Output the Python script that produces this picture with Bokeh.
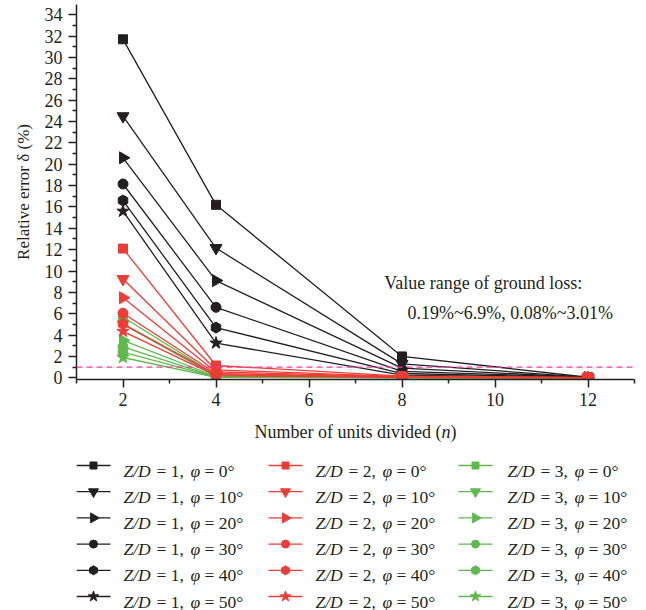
import math
from bokeh.plotting import figure
from bokeh.models import Range1d, FixedTicker, Span, Label
from bokeh.layouts import column
from bokeh.embed import file_html
from bokeh.resources import INLINE
from bokeh.core.properties import value

# ---------------- data ----------------
n_units = [2, 4, 8, 12]
phi_values = [0, 10, 20, 30, 40, 50]
zd_values = [1, 2, 3]

# relative error (%) per phi (rows) at n = 2, 4, 8, 12
err_zd1 = [
    [31.7, 16.2, 2.0, 0.05],
    [24.5, 12.15, 1.3, 0.04],
    [20.6, 9.1, 0.9, 0.03],
    [18.15, 6.6, 0.6, 0.03],
    [16.6, 4.7, 0.4, 0.02],
    [15.6, 3.25, 0.25, 0.02],
]
err_zd2 = [
    [12.1, 1.15, 0.15, 0.02],
    [9.25, 0.75, 0.1, 0.02],
    [7.5, 0.55, 0.08, 0.01],
    [6.05, 0.4, 0.06, 0.01],
    [5.05, 0.3, 0.05, 0.01],
    [4.35, 0.2, 0.04, 0.01],
]
err_zd3 = [
    [5.7, 0.25, 0.03, 0.01],
    [5.0, 0.18, 0.02, 0.01],
    [3.5, 0.12, 0.02, 0.0],
    [2.9, 0.08, 0.01, 0.0],
    [2.4, 0.06, 0.01, 0.0],
    [1.9, 0.04, 0.01, 0.0],
]
threshold = 1.0

x_ticks = [2, 4, 6, 8, 10, 12]
x_minor = [1, 3, 5, 7, 9, 11, 13]
y_ticks = list(range(0, 35, 2))
y_minor = list(range(1, 36, 2))

y_label = "Relative error δ (%)"
x_label_parts = ["Number of units divided (", "n", ")"]
note_line1 = "Value range of ground loss:"
note_line2 = "0.19%~6.9%, 0.08%~3.01%"

# ---------------- style ----------------
FONT = "Liberation Serif"
BLACK = "#231F20"
RED = "#EC3D36"
GREEN = "#60B94F"
PINK = "#EF3E9B"
colors = [BLACK, RED, GREEN]
marker_types = ["square", "inverted_triangle", "triangle", "circle", "hex", "star"]
marker_angles = [0, 0, -math.pi / 2, 0, math.pi / 2, 0]
marker_sizes = [9, 12, 12, 10, 11, 13]
legend_sizes = [7, 10, 10, 8, 9, 11]

LEFT, RIGHT = 76, 12
W = 646

# ---------------- main chart ----------------
top = figure(width=W, height=412, output_backend="svg", toolbar_location=None,
             x_range=Range1d(1, 13), y_range=Range1d(-0.16, 34.96),
             min_border_left=LEFT, min_border_right=RIGHT, min_border_top=4,
             min_border_bottom=33)
top.grid.visible = False
top.outline_line_color = None
top.background_fill_color = "white"
top.border_fill_color = "white"

top.xaxis.ticker = FixedTicker(ticks=x_ticks, minor_ticks=x_minor)
top.yaxis.ticker = FixedTicker(ticks=y_ticks, minor_ticks=y_minor)
for ax in (top.xaxis[0], top.yaxis[0]):
    ax.axis_line_width = 1.5
    ax.axis_line_color = BLACK
    ax.major_tick_out = 8
    ax.major_tick_in = 0
    ax.minor_tick_out = 4
    ax.minor_tick_in = 0
    ax.major_tick_line_width = 1.5
    ax.minor_tick_line_width = 1.5
    ax.major_tick_line_color = BLACK
    ax.minor_tick_line_color = BLACK
    ax.major_label_text_font = FONT
    ax.major_label_text_font_size = "18px"
    ax.major_label_text_color = BLACK
top.xaxis.major_label_standoff = 5
top.yaxis.major_label_standoff = 6
top.yaxis.axis_label = y_label
top.yaxis.axis_label_text_font = FONT
top.yaxis.axis_label_text_font_size = "17px"
top.yaxis.axis_label_text_font_style = "normal"
top.yaxis.axis_label_text_color = BLACK
top.yaxis.axis_label_standoff = 9

for errs, col in ((err_zd1, BLACK), (err_zd3, GREEN), (err_zd2, RED)):
    for i, ys in enumerate(errs):
        top.line(n_units, ys, line_color=col, line_width=1.3)
        top.scatter(n_units, ys, marker=marker_types[i], size=marker_sizes[i],
                    angle=marker_angles[i], fill_color=col, line_color=col)

top.add_layout(Span(location=threshold, dimension="width", line_color=PINK,
                    line_dash="6 4", line_width=1.4))

top.add_layout(Label(x=7.62, y=8.84, text=note_line1, text_font=FONT,
                     text_font_size="18px", text_color=BLACK, text_baseline="middle"))
top.add_layout(Label(x=8.12, y=6.03, text=note_line2, text_font=FONT,
                     text_font_size="18px", text_color=BLACK, text_baseline="middle"))

# ---------------- legend / x label panel (page pixel coordinates) ----------------
bot = figure(width=W, height=198, output_backend="svg", toolbar_location=None,
             x_range=Range1d(LEFT, W - RIGHT), y_range=Range1d(610, 412),
             min_border_left=LEFT, min_border_right=RIGHT, min_border_top=0,
             min_border_bottom=0, x_axis_location=None, y_axis_location=None)
bot.grid.visible = False
bot.outline_line_color = None
bot.background_fill_color = "white"
bot.border_fill_color = "white"

# x axis title with italic n
xl_x = [254, 254 + 187, 254 + 196]
xl_y = 431
bot.text(x=[xl_x[0], xl_x[2]], y=[xl_y, xl_y], text=[x_label_parts[0], x_label_parts[2]],
         text_font=value(FONT), text_font_size="18px", text_color=BLACK,
         text_baseline="alphabetic", text_align="left")
bot.text(x=[xl_x[1]], y=[xl_y], text=[x_label_parts[1]],
         text_font=value(FONT), text_font_size="18px", text_color=BLACK,
         text_font_style="italic", text_baseline="alphabetic", text_align="left")

col_marker_x = [93, 285, 475]
col_text_x = [123, 315, 507]
row0, row_step = 465, 26.2

it_x, it_y, it_t = [], [], []
rm_x, rm_y, rm_t = [], [], []
for c, zd in enumerate(zd_values):
    col = colors[c]
    for r, phi in enumerate(phi_values):
        cy = row0 + row_step * r
        mx = col_marker_x[c]
        bot.segment(x0=[mx - 17], y0=[cy], x1=[mx + 17], y1=[cy], line_color=col, line_width=1.3)
        bot.scatter([mx], [cy], marker=marker_types[r], size=legend_sizes[r],
                    angle=marker_angles[r], fill_color=col, line_color=col)
        tx = col_text_x[c]
        by = cy + 5
        it_x += [tx, tx + 67]
        it_y += [by, by]
        it_t += ["Z/D", "φ"]
        rm_x += [tx + 33, tx + 81]
        rm_y += [by, by]
        rm_t += [f"= {zd},", f"= {phi}°"]

bot.text(x=it_x, y=it_y, text=it_t, text_font=value(FONT), text_font_size="17.5px",
         text_font_style="italic", text_color=BLACK, text_baseline="alphabetic")
bot.text(x=rm_x, y=rm_y, text=rm_t, text_font=value(FONT), text_font_size="17.5px",
         text_color=BLACK, text_baseline="alphabetic")

layout = column(top, bot, spacing=0)
open("out.html", "w").write(file_html(layout, INLINE))
